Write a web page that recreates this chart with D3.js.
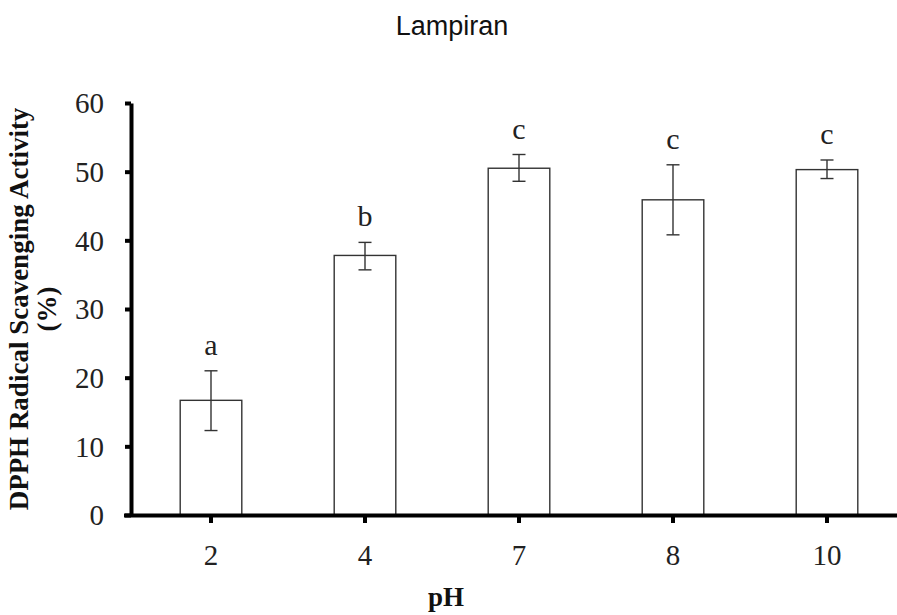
<!DOCTYPE html>
<meta charset="utf-8">
<html>
<head>
<script src="https://d3js.org/d3.v7.min.js"></script>
<style>
  body { margin: 0; background: white; }
  .tick text { font-family: "Liberation Serif", "Times New Roman", serif; fill: #222; }
</style>
</head>
<body>
<div id="chart"></div>
<script>
// data
const phLabels = ["2", "4", "7", "8", "10"];
const activity = [16.7, 37.8, 50.5, 45.9, 50.3];
const errHigh = [4.3, 1.9, 2.0, 5.1, 1.4];
const errLow = [4.4, 2.1, 1.9, 5.1, 1.3];
const letters = ["a", "b", "c", "c", "c"];
const yTicks = [0, 10, 20, 30, 40, 50, 60];

const W = 897, H = 615;
const svg = d3.select("#chart").append("svg")
    .attr("width", W).attr("height", H);

// scales
const x = d3.scaleBand()
    .domain(phLabels)
    .range([134, 904])
    .paddingInner(0.6)
    .paddingOuter(0.3);
const y = d3.scaleLinear()
    .domain([0, 60])
    .range([515, 103]);

// title
svg.append("text")
    .attr("x", 452).attr("y", 35)
    .attr("text-anchor", "middle")
    .style("font", "27px 'Liberation Sans', Arial, sans-serif")
    .style("fill", "#111")
    .text("Lampiran");

// bars
svg.selectAll(".bar")
    .data(activity)
    .enter().append("rect")
    .attr("x", (d, i) => x(phLabels[i]))
    .attr("width", x.bandwidth())
    .attr("y", d => y(d))
    .attr("height", d => y(0) - y(d))
    .attr("fill", "white")
    .attr("stroke", "#333")
    .attr("stroke-width", 1.4);

// error bars
const capW = 6.5;
activity.forEach((d, i) => {
    const cx = x(phLabels[i]) + x.bandwidth() / 2;
    const g = svg.append("g").attr("stroke", "#333").attr("stroke-width", 1.4);
    g.append("line").attr("x1", cx).attr("x2", cx)
        .attr("y1", y(d + errHigh[i])).attr("y2", y(d - errLow[i]));
    g.append("line").attr("x1", cx - capW).attr("x2", cx + capW)
        .attr("y1", y(d + errHigh[i])).attr("y2", y(d + errHigh[i]));
    g.append("line").attr("x1", cx - capW).attr("x2", cx + capW)
        .attr("y1", y(d - errLow[i])).attr("y2", y(d - errLow[i]));
    // significance letters
    svg.append("text")
        .attr("x", cx).attr("y", y(d + errHigh[i]) - 16)
        .attr("text-anchor", "middle")
        .style("font", "30px 'Liberation Serif', 'Times New Roman', serif")
        .style("fill", "#222")
        .text(letters[i]);
});

// y axis
const axY = svg.append("g")
    .attr("transform", "translate(131,0)")
    .call(d3.axisLeft(y).tickValues(yTicks).tickSize(6).tickSizeOuter(0).tickPadding(21));
axY.select(".domain").attr("stroke", "black").attr("stroke-width", 4);
axY.selectAll(".tick line").attr("stroke", "black").attr("stroke-width", 4);
axY.selectAll(".tick text").style("font-size", "29px").attr("dy", "0.34em");

// x axis
const axX = svg.append("g")
    .attr("transform", "translate(0,515)")
    .call(d3.axisBottom(x).tickSize(8).tickSizeOuter(0).tickPadding(21));
axX.select(".domain").attr("d", "M124,0.5H897").attr("stroke", "black").attr("stroke-width", 4);
axX.selectAll(".tick line").attr("stroke", "black").attr("stroke-width", 4);
axX.selectAll(".tick text").style("font-size", "29px");

// axis titles
svg.append("text")
    .attr("x", 446).attr("y", 606)
    .attr("text-anchor", "middle")
    .style("font", "bold 27px 'Liberation Serif', 'Times New Roman', serif")
    .style("fill", "#111")
    .text("pH");

const yTitle = svg.append("text")
    .attr("transform", "translate(0,309) rotate(-90)")
    .attr("text-anchor", "middle")
    .style("font", "bold 27px 'Liberation Serif', 'Times New Roman', serif")
    .style("fill", "#111");
yTitle.append("tspan").attr("x", 0).attr("y", 28).text("DPPH Radical Scavenging Activity");
yTitle.append("tspan").attr("x", 0).attr("y", 56).text("(%)");
</script>
</body>
</html>
